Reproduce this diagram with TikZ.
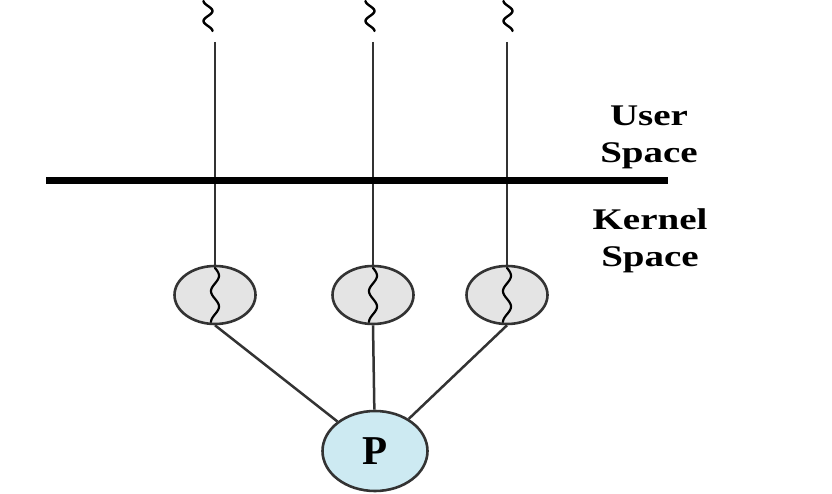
\documentclass[tikz,border=0pt]{standalone}
\usepackage{fontspec}
\setmainfont{Liberation Serif}
\usetikzlibrary{shapes.geometric}
\definecolor{thrgray}{HTML}{E4E4E4}
\definecolor{pblue}{HTML}{CDEAF2}
\definecolor{ln}{HTML}{333333}
\begin{document}
\begin{tikzpicture}[x=1pt,y=-1pt,
  thr/.style={ellipse,draw=ln,line width=2.6pt,fill=thrgray,minimum width=81pt,minimum height=58pt,inner sep=0pt},
  proc/.style={ellipse,draw=ln,line width=2.6pt,fill=pblue,minimum width=105pt,minimum height=80pt,inner sep=0pt,font=\fontsize{41}{41}\selectfont\bfseries},
  conn/.style={draw=ln,line width=2.5pt},
  wav/.style={draw=black,line width=2.4pt,line cap=round},
  lbl/.style={align=center,font=\fontsize{30}{37}\selectfont\bfseries}]
\useasboundingbox (0,0) rectangle (832,494);
% top squiggles
\foreach \xx in {208,370,508}{
  \draw[wav] plot[domain=0:1,samples=30,smooth] ({\xx+4.5*sin(-90+540*\x)},{1+30*\x});
}
% threads
\node[thr] (t1) at (215,295) {};
\node[thr] (t2) at (373,295) {};
\node[thr] (t3) at (507,295) {};
\foreach \n/\xx in {1/215,2/373,3/507}{
  \coordinate (u\n) at (\xx,42);
  \draw[conn] (u\n) -- (t\n.north);
  \draw[wav,line width=2.2pt] plot[domain=0:1,samples=40,smooth] ({\xx+4*sin(630*\x)},{268+54*\x});
}
% boundary
\coordinate (bl) at (46,181);
\coordinate (br) at (668,181);
\draw[line width=7pt] (bl) -- (br);
% process
\node[proc] (p) at (375,451) {P};
\draw[conn] (t1.south) -- (p);
\draw[conn] (t2.south) -- (p);
\draw[conn] (t3.south) -- (p);
% labels
\node[lbl] (us) at (649,137) {\scalebox{1.3}[1]{User}\\\scalebox{1.3}[1]{Space}};
\node[lbl] (ks) at (650,241) {\scalebox{1.3}[1]{Kernel}\\\scalebox{1.3}[1]{Space}};
\end{tikzpicture}
\end{document}
